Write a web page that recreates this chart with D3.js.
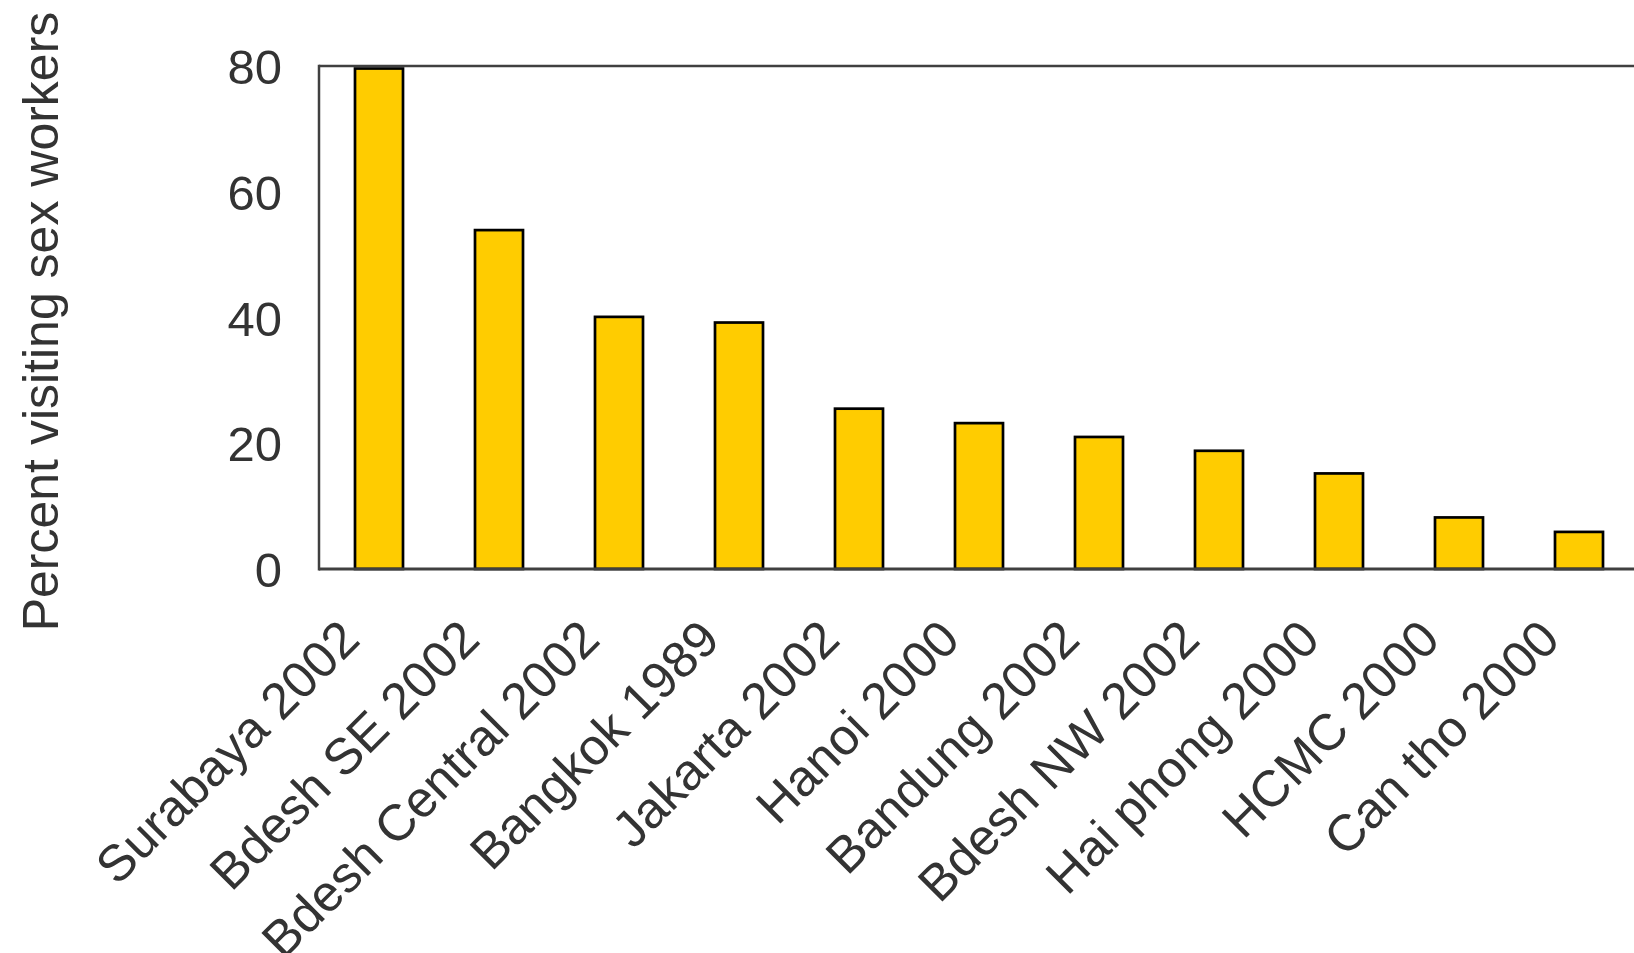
<!DOCTYPE html>
<html>
<head>
<meta charset="utf-8">
<script src="https://cdn.jsdelivr.net/npm/d3@7"></script>
<style>
  html, body { margin: 0; padding: 0; background: #fff; overflow: hidden; }
  text { font-family: "Liberation Sans", Arial, sans-serif; fill: #333333; }
</style>
</head>
<body>
<svg id="chart" width="1634" height="953"></svg>
<script>
const categories = ["Surabaya 2002", "Bdesh SE 2002", "Bdesh Central 2002", "Bangkok 1989", "Jakarta 2002", "Hanoi 2000", "Bandung 2002", "Bdesh NW 2002", "Hai phong 2000", "HCMC 2000", "Can tho 2000"];
const values = [79.6, 53.9, 40.1, 39.2, 25.5, 23.2, 21.0, 18.8, 15.2, 8.2, 5.9];
const yTicks = [0, 20, 40, 60, 80];
const yTitle = "Percent visiting sex workers";

(function () {
const svg = d3.select("#chart");
const plotLeft = 319, plotRight = 1639, plotTop = 66, plotBottom = 569;

const x = d3.scaleBand().domain(categories).range([plotLeft, plotRight]).paddingInner(0.6).paddingOuter(0.3);
const y = d3.scaleLinear().domain([0, 80]).range([plotBottom, plotTop]);

// bars
svg.append("g").selectAll("rect").data(values).join("rect")
  .attr("x", (d, i) => x(categories[i]))
  .attr("y", d => y(d))
  .attr("width", x.bandwidth())
  .attr("height", d => y(0) - y(d))
  .attr("fill", "#FFCC00")
  .attr("stroke", "#000")
  .attr("stroke-width", 2.7);

// frame lines
const lineColor = "#404040";
svg.append("line").attr("x1", plotLeft).attr("x2", 1640).attr("y1", y(80)).attr("y2", y(80))
  .attr("stroke", lineColor).attr("stroke-width", 2.5);
svg.append("line").attr("x1", plotLeft).attr("x2", 1640).attr("y1", y(0)).attr("y2", y(0))
  .attr("stroke", lineColor).attr("stroke-width", 3);
svg.append("line").attr("x1", plotLeft).attr("x2", plotLeft).attr("y1", y(80) - 1.25).attr("y2", y(0) + 1.5)
  .attr("stroke", lineColor).attr("stroke-width", 2.5);

// y axis labels
const yAxis = d3.axisLeft(y).tickValues(yTicks).tickSize(0).tickPadding(37);
const gy = svg.append("g").attr("transform", `translate(${plotLeft},0)`).call(yAxis);
gy.select(".domain").remove();
gy.selectAll("text").attr("font-size", 49).attr("fill", "#333").attr("dy", "0.36em")
  .style("font-family", '"Liberation Sans", Arial, sans-serif');

// x axis labels
const xAxis = d3.axisBottom(x).tickSize(0).tickPadding(0);
const gx = svg.append("g").attr("transform", `translate(0,${plotBottom})`).call(xAxis);
gx.select(".domain").remove();
gx.selectAll(".tick text")
  .attr("font-size", 51).attr("fill", "#333")
  .style("font-family", '"Liberation Sans", Arial, sans-serif')
  .attr("text-anchor", "end")
  .attr("dy", null).attr("y", null)
  .attr("transform", "translate(-17,73) rotate(-45)");

// y title
svg.append("text")
  .attr("transform", `translate(40,${(plotTop + plotBottom) / 2 + 4}) rotate(-90)`)
  .attr("text-anchor", "middle")
  .attr("dy", "0.36em")
  .attr("font-size", 50)
  .text(yTitle);
})();
</script>
</body>
</html>
